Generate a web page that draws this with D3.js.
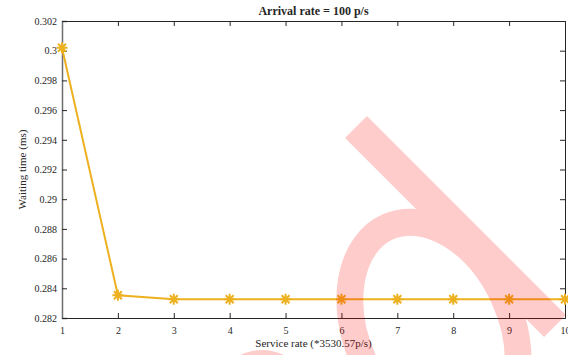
<!DOCTYPE html>
<html>
<head>
<meta charset="utf-8">
<script src="https://cdn.jsdelivr.net/npm/d3@7"></script>
<style>
  html, body { margin: 0; padding: 0; background: #fff; }
  svg { display: block; }
  text { font-family: "Liberation Serif", "Times New Roman", serif; fill: #262626; }
</style>
</head>
<body>
<svg id="chart" width="568" height="355"></svg>
<script>
// ---- data ----
const serviceRate = [1, 2, 3, 4, 5, 6, 7, 8, 9, 10];
const waitingTime = [0.3002, 0.28353, 0.28326, 0.28326, 0.28326, 0.28326, 0.28326, 0.28326, 0.28326, 0.28326];
const xTicks = [1, 2, 3, 4, 5, 6, 7, 8, 9, 10];
const yTicks = [0.282, 0.284, 0.286, 0.288, 0.29, 0.292, 0.294, 0.296, 0.298, 0.3, 0.302];
const titleText = "Arrival rate = 100 p/s";
const xLabelText = "Service rate (*3530.57p/s)";
const yLabelText = "Waiting time (ms)";

// ---- layout ----
const W = 568, H = 355;
const L = 62, R = 565, T = 21, B = 318;
const svg = d3.select("#chart");

const x = d3.scaleLinear().domain([1, 10]).range([L, R]);
const y = d3.scaleLinear().domain([0.282, 0.302]).range([B, T]);

const axisColor = "#262626";
const tickLen = 5;
const fmt = d => d3.format("")(+d.toFixed(3));

// bottom axis (ticks inward)
const gx = svg.append("g").attr("transform", `translate(0,${B})`)
  .call(d3.axisBottom(x).tickValues(xTicks).tickSize(-tickLen).tickPadding(9).tickFormat(d3.format("d")));
// top axis
const gxt = svg.append("g").attr("transform", `translate(0,${T})`)
  .call(d3.axisTop(x).tickValues(xTicks).tickSize(-tickLen).tickFormat(""));
// left axis
const gy = svg.append("g").attr("transform", `translate(${L},0)`)
  .call(d3.axisLeft(y).tickValues(yTicks).tickSize(-tickLen).tickPadding(5).tickFormat(fmt));
// right axis
const gyr = svg.append("g").attr("transform", `translate(${R},0)`)
  .call(d3.axisRight(y).tickValues(yTicks).tickSize(-tickLen).tickFormat(""));

[gx, gxt, gy, gyr].forEach(g => {
  g.select(".domain").attr("stroke", axisColor).attr("stroke-width", 1);
  g.selectAll(".tick line").attr("stroke", axisColor).attr("stroke-width", 1);
  g.selectAll(".tick text").attr("fill", axisColor)
    .style("font-family", '"Liberation Serif", "Times New Roman", serif')
    .style("font-size", "10px");
});
gy.select(".domain").attr("stroke", "#6e6e6e").attr("stroke-width", 1.5);

// ---- line + markers ----
const color = "#EDB120";
const line = d3.line().x((d, i) => x(serviceRate[i])).y(d => y(d));
svg.append("path").datum(waitingTime)
  .attr("d", line).attr("fill", "none").attr("stroke", color).attr("stroke-width", 2);

const s = 5.5, sd = s * 0.72;
const star = `M${-s},0L${s},0M0,${-s}L0,${s}M${-sd},${-sd}L${sd},${sd}M${-sd},${sd}L${sd},${-sd}`;
svg.append("g").selectAll("path").data(waitingTime).join("path")
  .attr("transform", (d, i) => `translate(${x(serviceRate[i])},${y(d)})`)
  .attr("d", star).attr("fill", "none").attr("stroke", color).attr("stroke-width", 2);

// ---- texts ----
svg.append("text").attr("x", (L + R) / 2).attr("y", 15).attr("text-anchor", "middle")
  .style("font-size", "12px").style("font-weight", "bold").attr("fill", "#000").text(titleText);
svg.append("text").attr("x", (L + R) / 2).attr("y", 347).attr("text-anchor", "middle")
  .style("font-size", "11px").text(xLabelText);
svg.append("text").attr("transform", `translate(26,${(T + B) / 2}) rotate(-90)`).attr("text-anchor", "middle")
  .style("font-size", "11px").text(yLabelText);

// ---- watermark overlay ----
const wm = svg.append("g").attr("opacity", 0.2);
wm.append("line").attr("x1", 356).attr("y1", 127).attr("x2", 555).attr("y2", 326)
  .attr("stroke", "#ff0000").attr("stroke-width", 31).attr("stroke-linecap", "butt");
wm.append("ellipse").attr("cx", 434).attr("cy", 330).attr("rx", 113).attr("ry", 77)
  .attr("transform", "rotate(65.8,434,330)")
  .attr("fill", "none").attr("stroke", "#ff0000").attr("stroke-width", 27);
wm.append("circle").attr("cx", 262).attr("cy", 400).attr("r", 50).attr("fill", "#ff0000");
</script>
</body>
</html>
